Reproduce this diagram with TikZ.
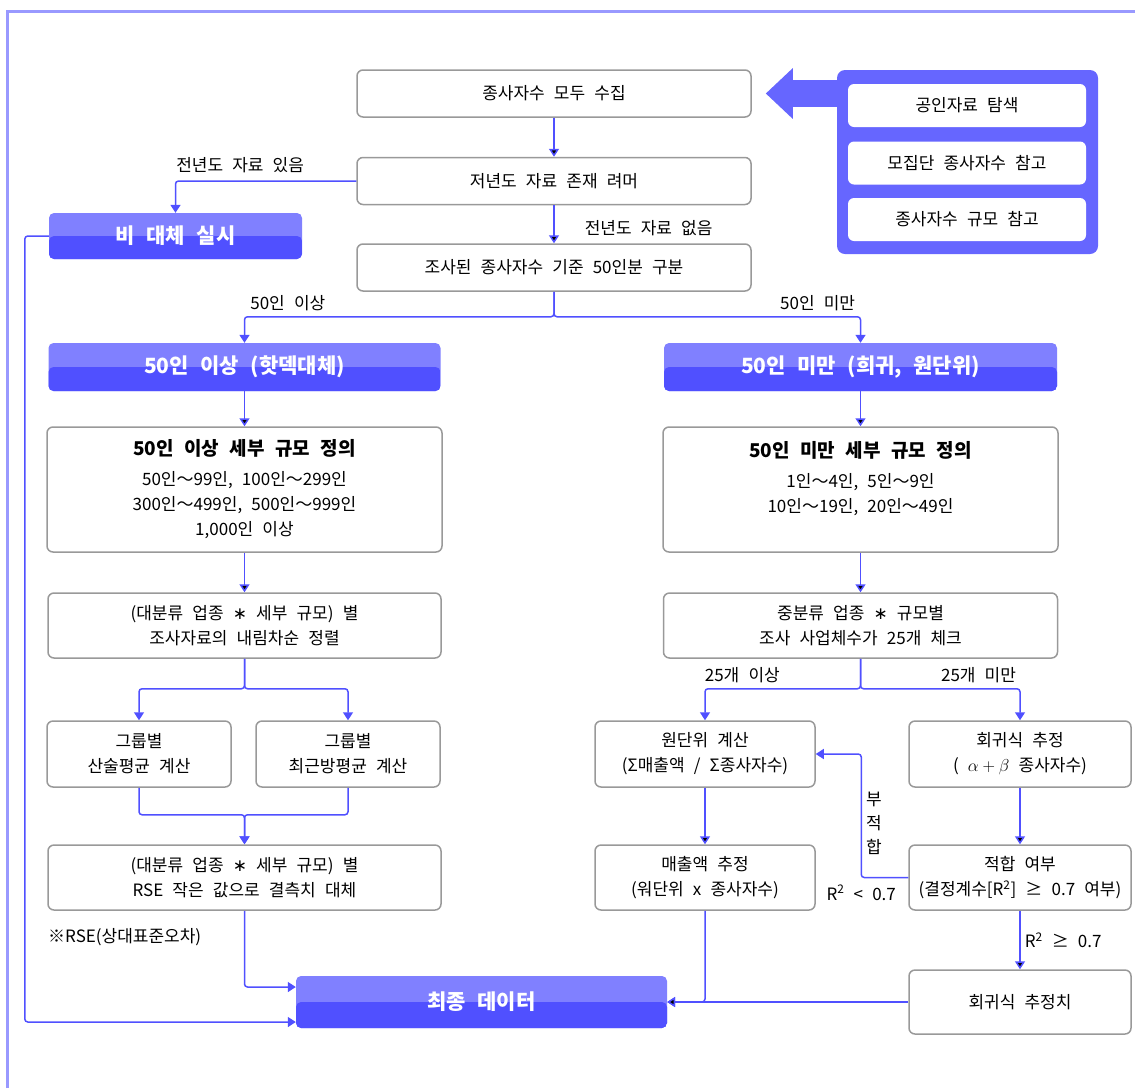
\documentclass[tikz,border=0pt]{standalone}
\usepackage{fontspec}
\setmainfont[WordSpace=2.4]{Noto Sans CJK KR}
\newfontfamily\symfont{DejaVu Sans}
\newcommand{\tld}{～}
\newcommand{\mulsym}{{\symfont ∗}}
\usetikzlibrary{arrows.meta}
\definecolor{conn}{HTML}{5050FF}
\definecolor{hdrtop}{HTML}{8080FF}
\definecolor{hdrbot}{HTML}{5050FF}
\definecolor{panelc}{HTML}{6666FF}
\definecolor{framec}{HTML}{9999FF}
\definecolor{boxline}{HTML}{999999}
\begin{document}
\begin{tikzpicture}[x=1pt,y=-1pt,box/.style={draw=boxline, line width=1.5pt, rounded corners=6pt, fill=white, align=center, inner sep=2pt, font=\fontsize{17}{25}\selectfont},hdr/.style={rounded corners=5pt, fill=hdrtop, text=white, align=center, font=\bfseries\fontsize{21}{24}\selectfont, path picture={\fill[hdrbot] (path picture bounding box.west) rectangle (path picture bounding box.south east);}},subbox/.style={fill=white, rounded corners=6pt, minimum width=238pt, minimum height=43pt, font=\fontsize{17}{25}\selectfont},lbl/.style={font=\fontsize{17}{20}\selectfont, inner sep=2pt},line/.style={draw=conn, line width=1.5pt, rounded corners=3pt, -{Triangle[length=8pt,width=10pt]}}]
\useasboundingbox (0,0) rectangle (1135,1088);
\draw[framec, line width=3pt] (7.5,1088) -- (7.5,11) -- (1135,11);
\node[box, minimum width=394pt, minimum height=47pt] (collect) at (554,93.5) {종사자수 모두 수집};
\node[box, minimum width=394pt, minimum height=47pt] (exist) at (554,181) {저년도 자료 존재 려머};
\node[box, minimum width=394pt, minimum height=47pt] (split) at (554,267.5) {조사된 종사자수 기준 50인분 구분};
\node[hdr, minimum width=253pt, minimum height=46pt] (keep) at (175.5,236) {비 대체 실시};
\node[fill=panelc, rounded corners=8pt, minimum width=261pt, minimum height=184pt] (panel) at (967.5,162) {};
\node[subbox] (public) at (967,105.5) {공인자료 탐색};
\node[subbox] (popul) at (967,163) {모집단 종사자수 참고};
\node[subbox] (scale) at (967,219.5) {종사자수 규모 참고};
\draw[panelc, line width=27pt, -{Triangle[length=27pt,width=49pt]}, shorten >=14pt] (panel.west |- collect.east) -- (collect.east);
\node[hdr, minimum width=392pt, minimum height=48pt] (big) at (244.5,367) {50인 이상 (핫덱대체)};
\node[hdr, minimum width=393pt, minimum height=48pt] (small) at (860.5,367) {50인 미만 (희귀, 원단위)};
\node[box, minimum width=395pt, minimum height=125pt] (defbig) at (244.5,489.5) {{\bfseries\fontsize{19}{25}\selectfont 50인 이상 세부 규모 정의}\\[5pt]50인\tld99인, 100인\tld299인\\300인\tld499인, 500인\tld999인\\1,000인 이상};
\node[box, minimum width=395pt, minimum height=125pt] (defsmall) at (860.5,489.5) {{\bfseries\fontsize{19}{25}\selectfont 50인 미만 세부 규모 정의}\\[5pt]1인\tld4인, 5인\tld9인\\10인\tld19인, 20인\tld49인\\\mbox{}};
\node[box, minimum width=393pt, minimum height=65pt] (order) at (244.5,625.5) {(대분류 업종 \mulsym{} 세부 규모) 별\\조사자료의 내림차순 정렬};
\node[box, minimum width=184pt, minimum height=66pt] (mean) at (139,754) {그룹별\\산술평균 계산};
\node[box, minimum width=184pt, minimum height=66pt] (near) at (348,754) {그룹별\\최근방평균 계산};
\node[box, minimum width=393pt, minimum height=65pt] (fill) at (244.5,877.5) {(대분류 업종 \mulsym{} 세부 규모) 별\\RSE 작은 값으로 결측치 대체};
\node[lbl, anchor=west] (note) at (46,937) {※RSE(상대표준오차)};
\node[hdr, minimum width=371pt, minimum height=52pt] (final) at (481.5,1002) {최종 데이터};
\node[box, minimum width=394pt, minimum height=65pt] (count) at (860.5,625.5) {중분류 업종 \mulsym{} 규모별\\조사 사업체수가 25개 체크};
\node[box, minimum width=220pt, minimum height=66pt] (unit) at (705,754) {원단위 계산\\(Σ매출액 / Σ종사자수)};
\node[box, minimum width=222pt, minimum height=66pt] (reg) at (1020,754) {회귀식 추정\\( $\alpha+\beta$ 종사자수)};
\node[box, minimum width=220pt, minimum height=65pt] (sales) at (705,877.5) {매출액 추정\\(워단위 x 종사자수)};
\node[box, minimum width=222pt, minimum height=65pt] (fit) at (1020,877.5) {적합 여부\\(결정계수[R\textsuperscript{2}] ≥ 0.7 여부)};
\node[box, minimum width=222pt, minimum height=64pt] (regval) at (1020,1002) {회귀식 추정치};
\path[line] (collect) edge (exist);
\path[line] (exist) edge node[lbl, right, xshift=28pt, yshift=-4pt] {전년도 자료 없음} (split);
\draw[line] (exist.west) -| node[lbl, pos=0.5, anchor=south west, xshift=-2pt, yshift=5pt] {전년도 자료 있음} (keep.north);
\draw[line] (split.south) -- ++(0,25) -| node[lbl, pos=0.43, above, yshift=3pt] {50인 이상} (big.north);
\draw[line] (split.south) -- ++(0,25) -| node[lbl, pos=0.43, above, yshift=3pt] {50인 미만} (small.north);
\path[line] (big) edge (defbig);
\path[line] (small) edge (defsmall);
\path[line] (defbig) edge (order);
\path[line] (defsmall) edge (count);
\draw[line] (order.south) -- ++(0,30) -| (mean.north);
\draw[line] (order.south) -- ++(0,30) -| (near.north);
\draw[line] (mean.south) -- ++(0,27) -| (fill.north);
\draw[line] (near.south) -- ++(0,27) -| (fill.north);
\draw[line] (fill.south) |- ([yshift=15pt]final.west);
\draw[line] (keep.west) -- ++(-24,0) |- ([yshift=-20pt]final.west);
\draw[line] (count.south) -- ++(0,30) -| node[lbl, pos=0.38, above, yshift=3pt] {25개 이상} (unit.north);
\draw[line] (count.south) -- ++(0,30) -| node[lbl, pos=0.37, above, yshift=3pt] {25개 미만} (reg.north);
\path[line] (unit) edge (sales);
\path[line] (reg) edge (fit);
\draw[line] (fit.west) -- ++(-47,0) node[lbl, below, yshift=-5pt] {R\textsuperscript{2} < 0.7} |- node[lbl, pos=0.22, right, xshift=2pt, align=center, font=\fontsize{17}{24}\selectfont] {부\\적\\합} (unit.east);
\path[line] (fit) edge node[lbl, right, xshift=2pt] {R\textsuperscript{2} ≥ 0.7} (regval);
\draw[line] (sales.south) |- (final.east);
\path[line] (regval) edge (final);
\end{tikzpicture}
\end{document}
